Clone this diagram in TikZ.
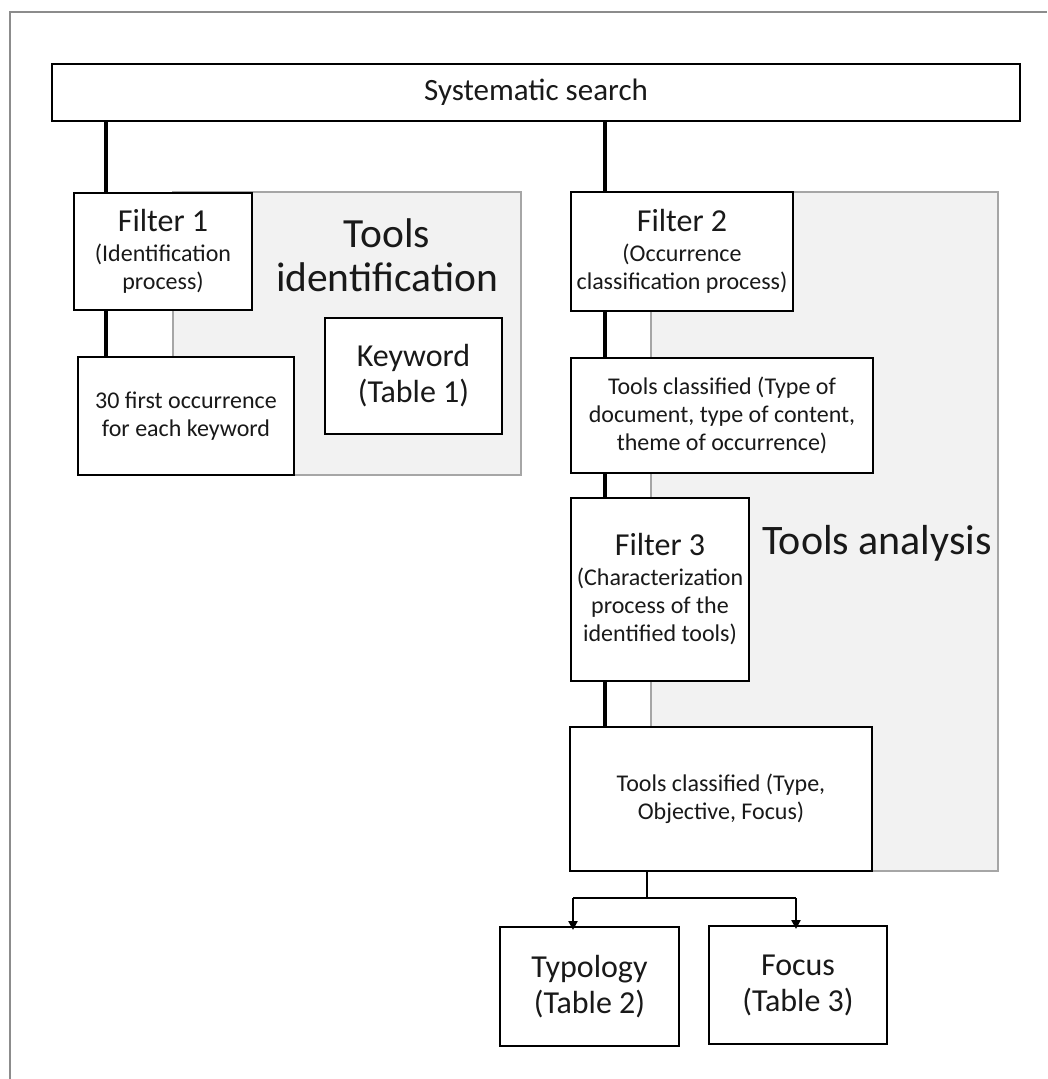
\documentclass[tikz,border=0pt]{standalone}
\usepackage{fontspec}
\setmainfont{Carlito}
\usetikzlibrary{arrows.meta}
\definecolor{areafill}{HTML}{F2F2F2}
\definecolor{areadraw}{HTML}{A6A6A6}
\definecolor{framegray}{HTML}{8C8C8C}
\newcommand{\bigline}[1]{{\fontsize{32}{30}\selectfont #1}}
\begin{document}
\begin{tikzpicture}[x=1pt,y=-1pt,
  boxnode/.style={draw=black,line width=2pt,fill=white,align=center,inner sep=0pt,text=black!90},
  smallf/.style={font=\fontsize{24}{28}\selectfont},
  bigtwo/.style={font=\fontsize{32}{36}\selectfont},
  area/.style={draw=areadraw,fill=areafill,line width=1.5pt},
  conn/.style={line width=4pt,black},
  tree/.style={line width=2.6pt,black},
  arr/.style={tree,-{Triangle[length=9pt,width=9pt]}}
]
\useasboundingbox (0,0) rectangle (1047,1079);
% outer frame fragments
\draw[framegray,line width=1.5pt] (10,1079) -- (10,12) -- (1047,12);
% grey areas
\draw[area] (173,192) rectangle (521,475);
\draw[area] (651,192) rectangle (998,871);
% area labels
\node[font=\fontsize{41.5}{44}\selectfont,align=center,text=black!90] (tid) at (387,255) {Tools\\identification};
\node[font=\fontsize{42}{44}\selectfont,text=black!90] (tan) at (877,543) {Tools analysis};
% boxes
\node[boxnode,minimum width=968pt,minimum height=57pt,font=\fontsize{31}{34}\selectfont] (ss) at (536,92.5) {Systematic search};
\node[boxnode,smallf,minimum width=178pt,minimum height=117pt] (f1) at (163,251.5) {\bigline{Filter 1}\\[2pt](Identification\\process)};
\node[boxnode,smallf,minimum width=216pt,minimum height=118pt] (fo) at (186,416) {30 first occurrence\\for each keyword};
\node[boxnode,bigtwo,minimum width=177pt,minimum height=116pt] (kw) at (413.5,376) {Keyword\\(Table 1)};
\node[boxnode,smallf,minimum width=222pt,minimum height=119pt] (f2) at (682,251.5) {\bigline{Filter 2}\\[2pt](Occurrence\\classification process)};
\node[boxnode,smallf,minimum width=302pt,minimum height=115pt] (tc1) at (722,415.5) {Tools classified (Type of\\document, type of content,\\theme of occurrence)};
\node[boxnode,smallf,minimum width=178pt,minimum height=183pt] (f3) at (660,589.5) {\bigline{Filter 3}\\[2pt](Characterization\\process of the\\identified tools)};
\node[boxnode,smallf,minimum width=302pt,minimum height=144pt] (tc2) at (721,799) {Tools classified (Type,\\Objective, Focus)};
\node[boxnode,bigtwo,minimum width=179pt,minimum height=119pt] (typ) at (589.5,986.5) {Typology\\(Table 2)};
\node[boxnode,bigtwo,minimum width=178pt,minimum height=118pt] (foc) at (798,985) {Focus\\(Table 3)};
% connector columns
\coordinate (cl) at (106,0);
\coordinate (cr) at (605,0);
\coordinate (ct) at (647,0);
\coordinate (tl) at (573,0);
\coordinate (tr) at (796,0);
\coordinate (hy) at (0,898);
\draw[conn] (cl |- ss.south) -- (cl |- f1.north);
\draw[conn] (cl |- f1.south) -- (cl |- fo.north);
\draw[conn] (cr |- ss.south) -- (cr |- f2.north);
\draw[conn] (cr |- f2.south) -- (cr |- tc1.north);
\draw[conn] (cr |- tc1.south) -- (cr |- f3.north);
\draw[conn] (cr |- f3.south) -- (cr |- tc2.north);
\draw[tree] (ct |- tc2.south) -- (ct |- hy);
\draw[tree] (tl |- hy) -- (tr |- hy);
\draw[arr] (tl |- hy) -- ([yshift=-4pt]tl |- typ.north);
\draw[arr] (tr |- hy) -- ([yshift=-4pt]tr |- foc.north);
\end{tikzpicture}
\end{document}
